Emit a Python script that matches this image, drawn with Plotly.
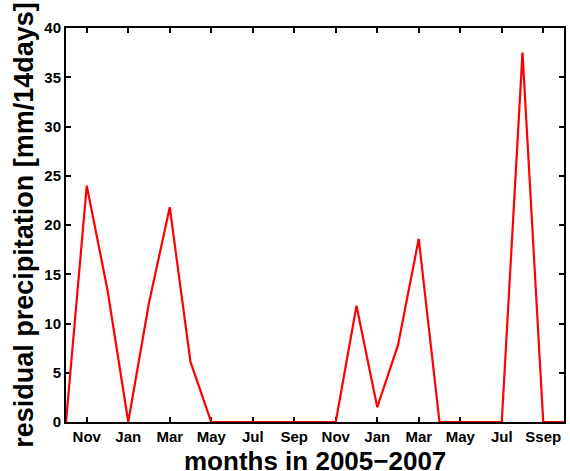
import plotly.graph_objects as go

# month index 0 = Oct 2005 ... 24 = Oct 2007
month_index = list(range(25))
precip = [0, 24.0, 13.4, 0, 12.1, 21.8, 6.1, 0,
          0, 0, 0, 0, 0, 0,
          11.8, 1.5, 7.8, 18.6, 0,
          0, 0, 0, 37.5, 0, 0]
tick_positions = [1, 3, 5, 7, 9, 11, 13, 15, 17, 19, 21, 23]
tick_labels = ["Nov", "Jan", "Mar", "May", "Jul", "Sep",
               "Nov", "Jan", "Mar", "May", "Jul", "Ssep"]
y_ticks = [0, 5, 10, 15, 20, 25, 30, 35, 40]

FONT = "Liberation Sans, Arial, Helvetica, sans-serif"

fig = go.Figure()
fig.add_trace(go.Scatter(
    x=month_index, y=precip, mode="lines",
    line=dict(color="#ff0000", width=2.2),
    showlegend=False,
))

axis_common = dict(
    showline=True, linecolor="black", linewidth=2, mirror="ticks",
    ticks="inside", ticklen=5, tickwidth=1.5, tickcolor="black",
    showgrid=False, zeroline=False, layer="below traces",
    tickfont=dict(family=FONT, size=15, color="black", weight="bold"),
)

fig.update_xaxes(
    range=[0, 24], tickmode="array", tickvals=tick_positions,
    ticktext=tick_labels, ticklabelstandoff=0,
    **axis_common,
)
fig.update_yaxes(
    range=[0, 40], tickmode="array", tickvals=y_ticks,
    title=dict(text="residual precipitation [mm/14days]",
               font=dict(family=FONT, size=27, color="black", weight="bold"),
               standoff=3),
    **axis_common,
)

fig.add_annotation(
    text="months in 2005\u22122007", xref="paper", yref="paper",
    x=0.5, y=0, xanchor="center", yanchor="bottom", yshift=-55,
    showarrow=False, borderpad=0,
    font=dict(family=FONT, size=26, color="black", weight="bold"),
)

fig.update_layout(
    width=570, height=471,
    margin=dict(l=66, r=4, t=28, b=49),
    paper_bgcolor="white", plot_bgcolor="white",
)

fig.write_html("out.html")
